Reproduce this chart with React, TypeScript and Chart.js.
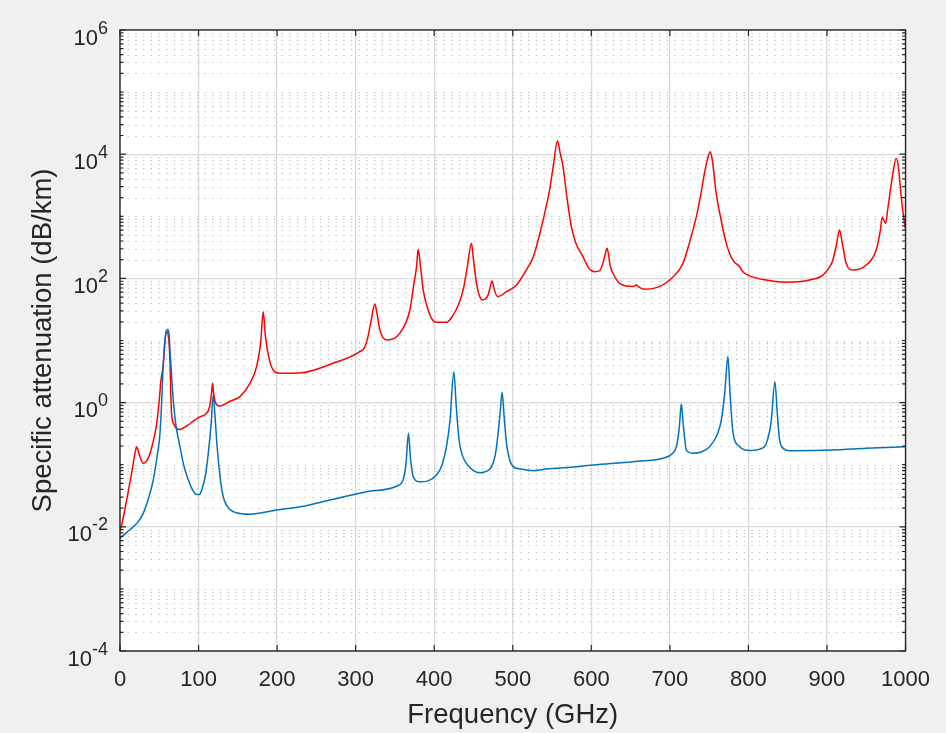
import React, { useEffect, useRef } from 'react';
import { Chart, registerables } from 'chart.js';

Chart.register(...registerables);

const FONT = '"Liberation Sans", Arial, Helvetica, sans-serif';

// Red curve: frequency (GHz) and specific attenuation (dB/km)
const redFreq = [
  0, 3, 8.5, 14.8, 19, 21.2, 23, 25.4, 29.7, 34, 38.2, 44.5, 46.7, 50, 52, 55, 58, 59.5, 61.5, 63.5, 65.6, 68.5, 72, 76, 85, 95,
  101.8, 110, 114, 116.5, 117.8, 119, 121, 124, 127, 140, 152.7, 165, 173.9, 179, 182.3, 185, 190, 195, 203.6, 229, 271.4,
  305.3, 311.7, 316, 320, 324.4, 327, 330.8, 335, 340, 356, 369, 374, 377.5, 379.6, 382, 386, 391, 396.6, 403, 415.6, 424,
  431, 436.8, 442, 447.4, 450, 453.8, 457, 461.4, 468.6, 471.5, 473.7, 476, 480.5, 492, 504.7, 517, 526, 534, 542.9, 547,
  552, 556.9, 560, 564, 569, 574.6, 580, 589.4, 597, 604.3, 610.7, 615, 618.5, 620, 622, 624, 627.6, 636, 653, 657.4, 660,
  668, 682.8, 699.7, 716.7, 725, 733.7, 740, 744, 748, 751.5, 754, 759, 765, 771.8, 780, 788.8, 793, 801.5, 822.7, 848,
  877.9, 894.8, 903, 907.5, 912, 916, 919, 924.5, 933, 950, 962.7, 968, 970.3, 974.6, 977, 979.6, 984, 988.1, 991, 994.5,
  998.7, 1000,
];
const redAtten = [
  0.0085, 0.012, 0.027, 0.073, 0.152, 0.195, 0.17, 0.135, 0.105, 0.115, 0.152, 0.32, 0.46, 1.1, 2.2, 4.0, 12, 14, 12, 5,
  0.67, 0.45, 0.385, 0.37, 0.42, 0.52, 0.59, 0.67, 0.85, 1.4, 2.04, 1.5, 1.05, 0.9, 0.88, 1.05, 1.25, 2.0, 3.8, 9, 29, 12,
  5, 3.35, 2.97, 3.0, 4.3, 6.6, 7.9, 12, 22, 38.7, 28, 14.8, 11, 10.2, 13, 31, 80, 154, 294, 180, 65, 35, 22.7, 19.6, 19.6,
  25.7, 38, 65, 150, 367, 200, 83, 55, 45, 54, 75, 91, 70, 51, 61, 78, 135, 220, 500, 1500, 2700, 7000, 16500, 11000, 6300,
  2000, 680, 380, 224, 145, 128, 133, 180, 270, 305, 240, 160, 121, 83, 74, 78, 73, 67, 71, 94, 175, 380, 986, 2500, 4900,
  8500, 11000, 8000, 2340, 900, 367, 198, 154, 128, 110, 94, 86.5, 94, 113, 150, 198, 350, 601, 400, 175, 136, 164, 286,
  600, 964, 771, 1200, 2070, 5000, 8600, 6000, 2070, 771, 620,
];

// Blue curve
const blueFreq = [
  0, 8, 17, 23, 29.7, 36, 42.4, 47, 50.9, 53, 55.1, 57.5, 59.4, 60.8, 62.3, 64, 65.6, 67.8, 71, 76.3, 81, 86.9, 92, 97.5,
  101, 104, 109, 112.4, 116, 118.7, 121, 123, 127, 131.4, 137, 144.2, 155, 165.4, 199.4, 229, 267, 313.9, 352, 360.4, 364,
  367.2, 370, 373.2, 381.7, 403, 410, 415.6, 420, 425, 428, 431.6, 436, 441, 450, 458, 466, 473, 478, 481.3, 484, 486.4,
  489, 492, 496, 500.4, 510, 525.9, 538.6, 570, 602, 653, 691, 703, 708.3, 712, 714.6, 717, 721, 729.4, 740, 750.6, 760,
  765.5, 770, 773.9, 776.5, 780, 788, 801.5, 815, 822.7, 829, 833.7, 837, 839.7, 845, 852.4, 907.5, 950, 1000,
];
const blueAtten = [
  0.0065, 0.008, 0.01, 0.012, 0.0166, 0.028, 0.057, 0.13, 0.32, 1.0, 4.3, 11, 14.8, 15, 13, 6, 2.8, 1.1, 0.45, 0.195, 0.1,
  0.057, 0.04, 0.033, 0.033, 0.039, 0.07, 0.153, 0.45, 1.32, 0.6, 0.25, 0.07, 0.0305, 0.021, 0.0175, 0.0162, 0.0159,
  0.0186, 0.021, 0.027, 0.0367, 0.045, 0.057, 0.1, 0.32, 0.12, 0.064, 0.053, 0.068, 0.1, 0.195, 0.5, 3.15, 0.9, 0.25, 0.14,
  0.105, 0.08, 0.074, 0.078, 0.093, 0.15, 0.32, 0.7, 1.47, 0.6, 0.22, 0.12, 0.093, 0.085, 0.08, 0.084, 0.09, 0.099, 0.112,
  0.127, 0.15, 0.195, 0.4, 0.95, 0.45, 0.172, 0.153, 0.16, 0.195, 0.3, 0.52, 1.5, 5.5, 1.5, 0.36, 0.2, 0.17, 0.18, 0.22,
  0.5, 2.17, 0.6, 0.25, 0.18, 0.168, 0.172, 0.184, 0.195,
];

const xTickValues = [0, 100, 200, 300, 400, 500, 600, 700, 800, 900, 1000];
const yMajorExponents = [-4, -2, 0, 2, 4, 6];

const TEXT = '#262626';
const AXIS = '#262626';
const MAJOR_GRID = '#d9d9d9';
const MINOR_GRID = '#b9b9b9';

function minorValues(): number[] {
  const out: number[] = [];
  for (let k = -4; k < 6; k++) {
    for (let m = 1; m <= 9; m++) {
      if (m === 1 && yMajorExponents.includes(k)) continue;
      out.push(m * Math.pow(10, k));
    }
  }
  return out;
}

const matlabPlugin = {
  id: 'matlabAxes',
  beforeDraw(chart: any) {
    const { ctx, chartArea: a, width, height } = chart;
    ctx.save();
    ctx.fillStyle = '#f0f0f0';
    ctx.fillRect(0, 0, width, height);
    ctx.fillStyle = '#ffffff';
    ctx.fillRect(a.left, a.top, a.right - a.left, a.bottom - a.top);
    ctx.restore();
  },
  beforeDatasetsDraw(chart: any) {
    const { ctx, chartArea: a } = chart;
    const y = chart.scales.y;
    ctx.save();
    ctx.strokeStyle = MINOR_GRID;
    ctx.lineWidth = 1;
    ctx.setLineDash([1.2, 6.5]);
    minorValues().forEach((v) => {
      const py = Math.round(y.getPixelForValue(v)) + 0.5;
      ctx.beginPath();
      ctx.moveTo(a.left, py);
      ctx.lineTo(a.right, py);
      ctx.stroke();
    });
    ctx.restore();
  },
  afterDatasetsDraw(chart: any) {
    const { ctx, chartArea: a } = chart;
    const x = chart.scales.x;
    const y = chart.scales.y;
    ctx.save();
    ctx.strokeStyle = AXIS;
    ctx.lineWidth = 1.4;
    ctx.strokeRect(a.left, a.top, a.right - a.left, a.bottom - a.top);
    ctx.lineWidth = 1.2;
    ctx.beginPath();
    xTickValues.forEach((v) => {
      const px = x.getPixelForValue(v);
      ctx.moveTo(px, a.bottom);
      ctx.lineTo(px, a.bottom - 6);
      ctx.moveTo(px, a.top);
      ctx.lineTo(px, a.top + 6);
    });
    yMajorExponents.forEach((e) => {
      const py = y.getPixelForValue(Math.pow(10, e));
      ctx.moveTo(a.left, py);
      ctx.lineTo(a.left + 6, py);
      ctx.moveTo(a.right, py);
      ctx.lineTo(a.right - 6, py);
    });
    minorValues().forEach((v) => {
      const py = y.getPixelForValue(v);
      ctx.moveTo(a.left, py);
      ctx.lineTo(a.left + 3.5, py);
      ctx.moveTo(a.right, py);
      ctx.lineTo(a.right - 3.5, py);
    });
    ctx.stroke();

    // y tick labels as 10 with superscript exponent
    ctx.fillStyle = TEXT;
    ctx.textAlign = 'left';
    ctx.textBaseline = 'alphabetic';
    const baseFont = `22px ${FONT}`;
    const expFont = `18px ${FONT}`;
    yMajorExponents.forEach((e) => {
      const py = y.getPixelForValue(Math.pow(10, e));
      const base = '10';
      const exp = String(e);
      ctx.font = baseFont;
      const wb = ctx.measureText(base).width;
      ctx.font = expFont;
      const we = ctx.measureText(exp).width;
      const right = 108;
      const left = right - we - wb;
      ctx.font = baseFont;
      ctx.fillText(base, left, py + 14.5);
      ctx.font = expFont;
      ctx.fillText(exp, left + wb, py + 3.5);
    });
    ctx.restore();
  },
};

export default function App() {
  const ref = useRef<HTMLCanvasElement>(null);

  useEffect(() => {
    document.body.style.margin = '0';
    document.body.style.background = '#f0f0f0';
    const canvas = ref.current;
    if (!canvas) return;
    const chart = new Chart(canvas, {
      type: 'line',
      data: {
        datasets: [
          {
            label: 'red',
            data: redFreq.map((f, i) => ({ x: f, y: redAtten[i] })),
            borderColor: '#ff0000',
            borderWidth: 1.5,
            pointRadius: 0,
            fill: false,
            cubicInterpolationMode: 'monotone',
            order: 1,
          },
          {
            label: 'blue',
            data: blueFreq.map((f, i) => ({ x: f, y: blueAtten[i] })),
            borderColor: '#0072bd',
            borderWidth: 1.5,
            pointRadius: 0,
            fill: false,
            cubicInterpolationMode: 'monotone',
            order: 0,
          },
        ],
      },
      options: {
        responsive: false,
        animation: false,
        events: [],
        layout: { padding: { top: 30, right: 40, left: 0, bottom: 0 } },
        plugins: { legend: { display: false }, tooltip: { enabled: false } },
        scales: {
          x: {
            type: 'linear',
            min: 0,
            max: 1000,
            afterBuildTicks: (s: any) => {
              s.ticks = xTickValues.map((v) => ({ value: v }));
            },
            afterFit: (s: any) => {
              s.height = 82;
            },
            grid: { color: MAJOR_GRID, lineWidth: 1.3, drawTicks: false },
            border: { display: false },
            ticks: {
              font: { family: FONT, size: 22 },
              color: TEXT,
              padding: 16,
              maxRotation: 0,
              autoSkip: false,
              callback: (v: any) => String(v),
            },
            title: {
              display: true,
              text: 'Frequency (GHz)',
              font: { family: FONT, size: 27.5 },
              color: TEXT,
              padding: { top: 0, bottom: 1 },
            },
          },
          y: {
            type: 'logarithmic',
            min: 1e-4,
            max: 1e6,
            afterBuildTicks: (s: any) => {
              s.ticks = yMajorExponents.map((e) => ({ value: Math.pow(10, e), major: true }));
            },
            afterFit: (s: any) => {
              s.width = 120;
            },
            grid: { color: MAJOR_GRID, lineWidth: 1.3, drawTicks: false },
            border: { display: false },
            ticks: { display: false },
            title: {
              display: true,
              text: 'Specific attenuation (dB/km)',
              font: { family: FONT, size: 27.5 },
              color: TEXT,
              padding: { top: 26.7, bottom: 0 },
            },
          },
        },
      },
      plugins: [matlabPlugin],
    });
    return () => chart.destroy();
  }, []);

  return (
    <div style={{ width: 946, height: 733 }}>
      <canvas ref={ref} width={946} height={733} style={{ display: 'block' }} />
    </div>
  );
}
